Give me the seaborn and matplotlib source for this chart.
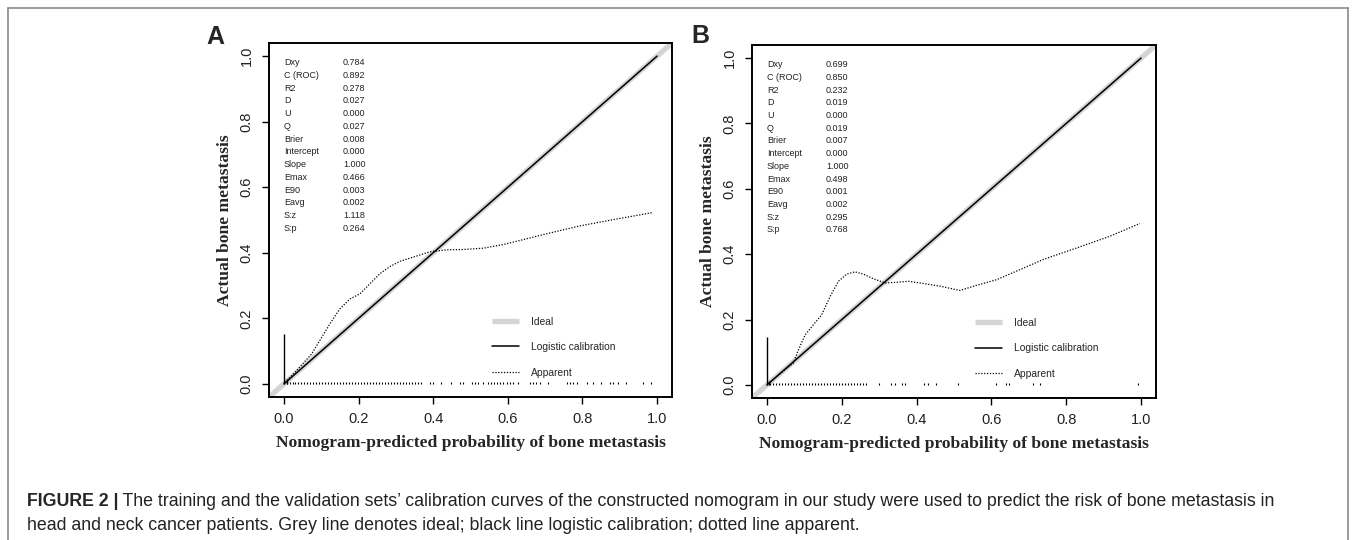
import matplotlib
matplotlib.use("Agg")
import matplotlib.pyplot as plt
import seaborn as sns
import pandas as pd
from matplotlib.lines import Line2D

# ---------------- data ----------------
ideal_x = [0.0, 1.0]
ideal_y = [0.0, 1.0]
logit_x = [0.0, 1.0]
logit_y = [0.0, 1.0]

app_a_x = [0.003, 0.030, 0.074, 0.096, 0.123, 0.150, 0.177, 0.204, 0.230, 0.257, 0.284,
           0.311, 0.347, 0.391, 0.436, 0.481, 0.534, 0.588, 0.641, 0.704, 0.793, 0.882, 0.990]
app_a_y = [0.004, 0.036, 0.091, 0.132, 0.183, 0.229, 0.259, 0.275, 0.305, 0.336, 0.358,
           0.374, 0.387, 0.403, 0.409, 0.410, 0.414, 0.425, 0.440, 0.458, 0.482, 0.501, 0.523]

app_b_x = [0.004, 0.035, 0.070, 0.084, 0.102, 0.124, 0.146, 0.169, 0.191, 0.213, 0.235, 0.258,
           0.284, 0.316, 0.347, 0.378, 0.409, 0.463, 0.516, 0.561, 0.614, 0.677, 0.739, 0.828,
           0.917, 0.997]
app_b_y = [0.004, 0.034, 0.066, 0.107, 0.153, 0.184, 0.214, 0.271, 0.317, 0.339, 0.346, 0.339,
           0.325, 0.312, 0.314, 0.317, 0.312, 0.302, 0.289, 0.305, 0.322, 0.353, 0.384, 0.419,
           0.455, 0.494]

spike_a_x = [0.0, 0.007]
spike_a_h = [0.153, 0.014]
spike_b_x = [0.0, 0.006]
spike_b_h = [0.148, 0.012]

rug_a_x = [0.007, 0.015, 0.023, 0.031, 0.039, 0.047, 0.055, 0.063, 0.071, 0.079, 0.087, 0.095,
           0.103, 0.111, 0.119, 0.127, 0.135, 0.143, 0.151, 0.159, 0.167, 0.175, 0.183, 0.191,
           0.199, 0.207, 0.215, 0.223, 0.231, 0.239, 0.247, 0.255, 0.263, 0.271, 0.279, 0.287,
           0.295, 0.303, 0.311, 0.319, 0.327, 0.335, 0.343, 0.351, 0.359, 0.367,
           0.391, 0.400, 0.420, 0.449, 0.472, 0.481, 0.503, 0.512, 0.521, 0.534, 0.548, 0.556,
           0.563, 0.571, 0.580, 0.588, 0.597, 0.605, 0.614, 0.628, 0.659, 0.667, 0.675, 0.686,
           0.709, 0.758, 0.767, 0.776, 0.785, 0.811, 0.829, 0.851, 0.873, 0.882, 0.896, 0.918,
           0.963, 0.985]
rug_b_x = [0.008, 0.016, 0.024, 0.032, 0.040, 0.048, 0.056, 0.064, 0.072, 0.080, 0.088, 0.096,
           0.104, 0.112, 0.120, 0.128, 0.136, 0.144, 0.152, 0.160, 0.168, 0.176, 0.184, 0.192,
           0.200, 0.208, 0.216, 0.224, 0.232, 0.240, 0.248, 0.256, 0.264,
           0.300, 0.332, 0.341, 0.360, 0.369, 0.421, 0.431, 0.451, 0.512, 0.612, 0.639, 0.648,
           0.710, 0.730, 0.991]

stat_names = ["Dxy", "C (ROC)", "R2", "D", "U", "Q", "Brier", "Intercept", "Slope",
              "Emax", "E90", "Eavg", "S:z", "S:p"]
stats_a = ["0.784", "0.892", "0.278", "0.027", "0.000", "0.027", "0.008", "0.000", "1.000",
           "0.466", "0.003", "0.002", "1.118", "0.264"]
stats_b = ["0.699", "0.850", "0.232", "0.019", "0.000", "0.019", "0.007", "0.000", "1.000",
           "0.498", "0.001", "0.002", "0.295", "0.768"]

tick_vals = [0.0, 0.2, 0.4, 0.6, 0.8, 1.0]
tick_labels = ["0.0", "0.2", "0.4", "0.6", "0.8", "1.0"]
xlabel = "Nomogram-predicted probability of bone metastasis"
ylabel = "Actual bone metastasis"
caption_bold = "FIGURE 2 |"
caption_1 = (" The training and the validation sets\u2019 calibration curves of the constructed nomogram "
             "in our study were used to predict the risk of bone metastasis in")
caption_2 = "head and neck cancer patients. Grey line denotes ideal; black line logistic calibration; dotted line apparent."

# ---------------- style ----------------
sns.set_theme(style="white")
plt.rcParams['font.family'] = ['Liberation Sans', 'DejaVu Sans']

W, H = 1356, 540
fig = plt.figure(figsize=(W / 100, H / 100), dpi=100)
fig.patch.set_facecolor("white")

axA = fig.add_axes([269 / W, 1 - 397 / H, 403 / W, 354 / H])
axB = fig.add_axes([752 / W, 1 - 398 / H, 404 / W, 353 / H])


def draw(ax, app_x, app_y, sp_x, sp_h, rug_x, stats):
    ax.axline((ideal_x[0], ideal_y[0]), (ideal_x[1], ideal_y[1]), color="#d4d4d4", lw=3.8,
              solid_capstyle="butt", zorder=1, label="Ideal")
    sns.lineplot(x=logit_x, y=logit_y, ax=ax, color="black", lw=1.1, zorder=3,
                 label="Logistic calibration", estimator=None, sort=False)
    sns.lineplot(x=app_x, y=app_y, ax=ax, color="black", lw=0.9, zorder=4,
                 label="Apparent", estimator=None, sort=False)
    lines = ax.get_lines()
    lines[-1].set_dashes((1.0, 1.3))
    ax.vlines(sp_x, 0, sp_h, color="black", lw=1.0, zorder=5)
    ax.vlines(rug_x, 0, 0.005, color="black", lw=0.8, zorder=5)

    ax.set_xlim(-0.04, 1.04)
    ax.set_ylim(-0.04, 1.04)
    ax.set_xticks(tick_vals)
    ax.set_xticklabels(tick_labels)
    ax.set_yticks(tick_vals)
    ax.set_yticklabels(tick_labels, rotation=90, va="center")
    ax.tick_params(axis="both", direction="out", length=5, width=1.0, color="black",
                   labelsize=10.5, pad=6, bottom=True, left=True, labelcolor="#222222")
    for s in ax.spines.values():
        s.set_color("black")
        s.set_linewidth(1.4)
    ax.set_xlabel(xlabel, family="Liberation Serif", fontweight="bold", fontsize=12.6, labelpad=6)
    ax.set_ylabel(ylabel, family="Liberation Serif", fontweight="bold", fontsize=12.6, labelpad=5)

    for i, (nm, v) in enumerate(zip(stat_names, stats)):
        y = 0.98 - i * 0.0389
        ax.text(0.0, y, nm, fontsize=6.5, va="center", ha="left", color="#222222")
        ax.text(0.158, y, v, fontsize=6.5, va="center", ha="left", color="#222222")

    h = [Line2D([], [], color="#d4d4d4", lw=3.8, solid_capstyle="butt"),
         Line2D([], [], color="black", lw=1.1),
         Line2D([], [], color="black", lw=0.9, dashes=(1.0, 1.3))]
    ax.legend(h, ["Ideal", "Logistic calibration", "Apparent"], loc="center left",
              bbox_to_anchor=(0.553, 0.141), frameon=False, fontsize=7.4, handlelength=2.6,
              handletextpad=1.2, labelspacing=1.5, borderpad=0, borderaxespad=0)


draw(axA, app_a_x, app_a_y, spike_a_x, spike_a_h, rug_a_x, stats_a)
draw(axB, app_b_x, app_b_y, spike_b_x, spike_b_h, rug_b_x, stats_b)

fig.text(215 / W, 1 - 37 / H, "A", fontsize=18, fontweight="bold", ha="center", va="center")
fig.text(700 / W, 1 - 36 / H, "B", fontsize=18, fontweight="bold", ha="center", va="center")

# frame around the figure (open at the bottom)
fc = "#8a8a8a"
fig.add_artist(Line2D([8 / W, 1348 / W], [1 - 8 / H, 1 - 8 / H], color=fc, lw=1.2, transform=fig.transFigure))
fig.add_artist(Line2D([8 / W, 8 / W], [0, 1 - 8 / H], color=fc, lw=1.2, transform=fig.transFigure))
fig.add_artist(Line2D([1348 / W, 1348 / W], [0, 1 - 8 / H], color=fc, lw=1.2, transform=fig.transFigure))

# caption
cap_fs = 12.8
tb = fig.text(27 / W, 1 - 502 / H, caption_bold, fontsize=cap_fs, fontweight="bold", va="center", ha="left")
fig.canvas.draw()
bb = tb.get_window_extent(renderer=fig.canvas.get_renderer())
fig.text(bb.x1 / W, 1 - 502 / H, caption_1, fontsize=cap_fs, va="center", ha="left", color="#222222")
fig.text(27 / W, 1 - 525 / H, caption_2, fontsize=cap_fs, va="center", ha="left", color="#222222")

fig.savefig("out.png", dpi=100, facecolor="white")
